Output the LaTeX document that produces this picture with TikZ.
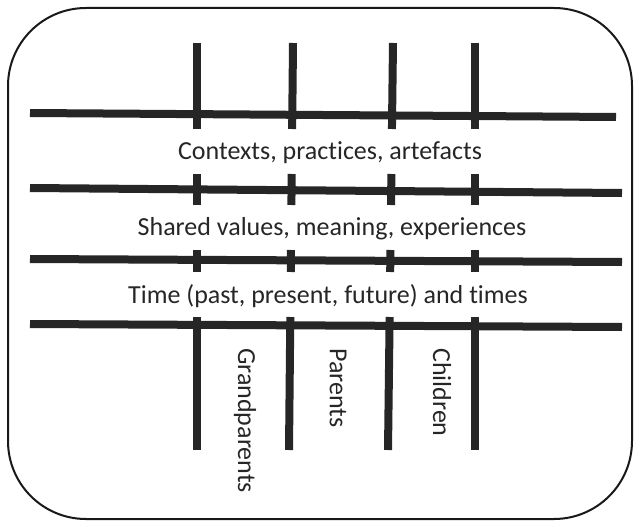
\documentclass[tikz,border=0pt]{standalone}
\usepackage{fontspec}
\setmainfont[Ligatures=NoCommon]{Carlito}
\begin{document}
\begin{tikzpicture}[x=1pt,y=-1pt,
  bar/.style={line width=8pt,draw=black!85},
  lbl/.style={font=\fontsize{26}{30}\selectfont,text=black!85,inner sep=0pt},
  vlbl/.style={lbl,rotate=-90,anchor=west}]
\useasboundingbox (0,0) rectangle (640,527);
\draw[line width=2pt,rounded corners=78pt,draw=black!90] (8,8) rectangle (632,519);
% horizontal bars
\draw[bar] (30,113) -- (616,117);
\draw[bar] (30,188) -- (622,193);
\draw[bar] (30,259) -- (622,262);
\draw[bar] (30,324) -- (622,327);
% vertical bars (segments)
\foreach \xt/\xb in {197/197,293/289,393/388,475/475}{
  \draw[bar] (\xt,43) -- ({\xt+(\xb-\xt)*(129-43)/407},129);
  \draw[bar] ({\xt+(\xb-\xt)*(174-43)/407},174) -- ({\xt+(\xb-\xt)*(205-43)/407},205);
  \draw[bar] ({\xt+(\xb-\xt)*(250-43)/407},250) -- ({\xt+(\xb-\xt)*(272-43)/407},272);
  \draw[bar] ({\xt+(\xb-\xt)*(317-43)/407},317) -- (\xb,450);
}
\node[lbl] (ctx) at (330,153) {Contexts, practices, artefacts};
\node[lbl] (shv) at (332,229) {Shared values, meaning, experiences};
\node[lbl] (tim) at (328,296) {Time (past, present, future) and times};
\node[vlbl] (gp) at (245,348) {Grandparents};
\node[vlbl] (pa) at (338,348) {Parents};
\node[vlbl] (ch) at (442,348) {Children};
\end{tikzpicture}
\end{document}
